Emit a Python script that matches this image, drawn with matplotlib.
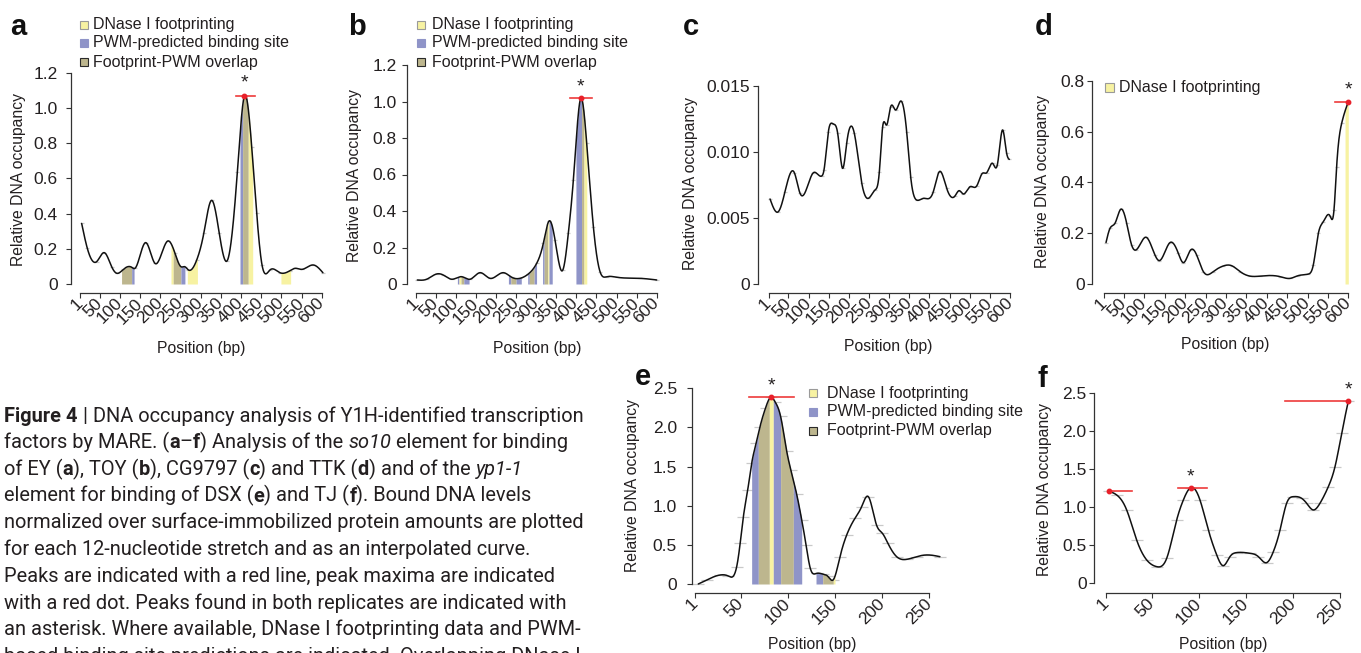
import numpy as np
import matplotlib
matplotlib.use("Agg")
import matplotlib.pyplot as plt
from matplotlib.transforms import IdentityTransform
from matplotlib.patches import Rectangle

W, H = 1361, 653
plt.rcParams['font.family'] = ['Liberation Sans', 'DejaVu Sans']
INK = '#231f20'

# ---------------- data ----------------
a_pos = [5.1, 19.2, 42.3, 61.3, 79.5, 91.9, 108.4, 129.1, 137.3, 163.8, 186.9, 218.3, 236.5, 251.3, 261, 269.5,
         290.2, 308, 327, 346, 366, 391, 408.3, 426.5, 438.9, 452.1, 471.9, 496.7, 521.5, 533.9, 550.4, 579.3, 603]
a_val = [0.344, 0.202, 0.127, 0.178, 0.098, 0.061, 0.083, 0.095, 0.089, 0.235, 0.117, 0.244, 0.174, 0.098, 0.098, 0.080,
         0.136, 0.29, 0.475, 0.29, 0.133, 0.638, 1.067, 0.780, 0.401, 0.108, 0.080, 0.064, 0.076, 0.089, 0.083, 0.108, 0.064]
a_fill_start = [104, 129, 226.5, 232, 251, 267, 397.5, 404, 418, 499]
a_fill_end = [129, 135, 232, 251, 261, 292, 404, 418, 429, 523]
a_fill_kind = ['O', 'P', 'Y', 'O', 'P', 'Y', 'P', 'O', 'Y', 'Y']

b_pos = [4.3, 27.5, 52.4, 69, 89.8, 114.7, 135.4, 160.3, 185.2, 218.4, 239.1, 259.8, 280.6, 301.3, 317.9, 332,
         347, 366, 380.1, 392.6, 411, 425.8, 442.4, 458.9, 475.5, 500.4, 558.5, 600]
b_val = [0.022, 0.026, 0.055, 0.049, 0.026, 0.040, 0.026, 0.062, 0.031, 0.062, 0.037, 0.031, 0.055, 0.113, 0.223, 0.345,
         0.241, 0.075, 0.278, 0.570, 1.0175, 0.771, 0.314, 0.068, 0.040, 0.037, 0.031, 0.022]
b_fill_start = [104, 108, 113, 120, 231, 237, 250, 279, 283, 295, 316, 320, 329, 332, 399, 413, 419]
b_fill_end = [108, 113, 120, 133, 237, 250, 263, 283, 295, 301, 320, 329, 332, 340, 413, 419, 426]
b_fill_kind = ['P', 'Y', 'O', 'P', 'P', 'O', 'P', 'P', 'O', 'P', 'P', 'O', 'Y', 'P', 'P', 'O', 'Y']

c_pos = [4.3, 25, 41.5, 64.7, 78.8, 111.9, 132.5, 138.3, 149.1, 161.5, 172.3, 184.7, 194.6, 213.6, 231.8, 248.4,
         264.9, 275.7, 283.9, 293.9, 303.8, 316.2, 328.6, 343.5, 353.4, 368.3, 384.9, 409.7, 424.6, 442.8, 463.5,
         473.4, 484.1, 500.7, 517.2, 531.3, 542.1, 556.9, 568.5, 581.8, 591.7, 598.3]
c_val = [0.00644, 0.00548, 0.00700, 0.00843, 0.00687, 0.00843, 0.00818, 0.00864, 0.01154, 0.01212, 0.01141, 0.00876,
         0.01066, 0.01141, 0.00768, 0.00649, 0.00712, 0.00851, 0.01192, 0.01205, 0.01343, 0.01318, 0.01386, 0.01154,
         0.00813, 0.00636, 0.00649, 0.00700, 0.00851, 0.00725, 0.00667, 0.00707, 0.00682, 0.00737, 0.00742, 0.00838,
         0.00843, 0.00914, 0.00902, 0.01167, 0.00990, 0.00944]

d_pos = [5.9, 15.7, 28, 41.9, 56.6, 68.8, 79.5, 104, 126, 136.7, 162.8, 183.2, 195.5, 213.5, 228.2, 244.5, 269,
         293.6, 314, 334.4, 358.9, 383.4, 432.5, 457, 477.4, 501.9, 514.2, 526.5, 538.7, 555.1, 564.9, 571.4, 583.7, 600]
d_val = [0.163, 0.219, 0.239, 0.294, 0.239, 0.153, 0.134, 0.184, 0.114, 0.092, 0.163, 0.121, 0.084, 0.134, 0.114,
         0.049, 0.049, 0.071, 0.072, 0.049, 0.031, 0.031, 0.029, 0.022, 0.033, 0.039, 0.075, 0.199, 0.245, 0.268,
         0.291, 0.462, 0.632, 0.717]
d_fill_start = [592]
d_fill_end = [600]
d_fill_kind = ['Y']

e_pos = [4.5, 13.4, 27.6, 36.4, 45.3, 49, 52.4, 57, 61.2, 66, 70.1, 76, 81.8, 86, 92, 98.4, 103, 109, 114.4, 119,
         123.3, 130.3, 137.4, 142, 148, 155.1, 162.2, 171, 178.1, 185.2, 194, 200, 206, 215.3, 225.9, 236.5, 247.2, 261.3]
e_val = [0.0, 0.051, 0.115, 0.102, 0.221, 0.52, 0.86, 1.2, 1.54, 1.80, 2.01, 2.25, 2.385, 2.33, 2.14, 1.70, 1.45,
         1.15, 0.82, 0.50, 0.21, 0.136, 0.125, 0.10, 0.055, 0.349, 0.626, 0.839, 0.988, 1.116, 0.75, 0.65, 0.52,
         0.349, 0.315, 0.349, 0.371, 0.349]
e_fill_start = [61.2, 68.3, 80, 84.2, 92, 105.5, 129.6, 136.7, 148]
e_fill_end = [68.3, 80, 84.2, 92, 105.5, 114.4, 136.7, 148, 149.8]
e_fill_kind = ['P', 'O', 'Y', 'P', 'O', 'P', 'P', 'O', 'Y']

f_pos = [4.5, 12.4, 23, 33.6, 44.3, 54.9, 65.6, 76.2, 83.3, 91.4, 101, 109.9, 118.8, 125.9, 132.9, 140, 154.2,
         163.1, 172, 179.1, 186.2, 193.2, 200.3, 209.2, 214.5, 221.6, 228.7, 237.6, 244.7, 251.8, 258.9]
f_val = [1.21, 1.162, 0.965, 0.570, 0.307, 0.219, 0.329, 0.833, 1.096, 1.26, 1.096, 0.702, 0.373, 0.232, 0.351,
         0.404, 0.395, 0.351, 0.272, 0.417, 0.702, 1.053, 1.140, 1.118, 1.053, 0.965, 1.053, 1.272, 1.535, 1.974, 2.40]

# peaks: (line start, line end, level, maximum position, asterisk y or None)
a_peaks = [(387.7, 434.8, 1.067, 408.3, 1.14)]
b_peaks = [(384, 438, 1.0175, 411, 1.081)]
c_peaks = []
d_peaks = [(567, 600, 0.717, 600, 0.763)]
e_peaks = [(58.7, 106.2, 2.385, 81.8, 2.53)]
f_peaks = [(4.5, 28.3, 1.21, 4.5, None), (78, 108, 1.26, 91.4, 1.40), (191.5, 259, 2.40, 258.9, 2.55)]

x_ticks_600 = [1, 50, 100, 150, 200, 250, 300, 350, 400, 450, 500, 550, 600]
x_ticks_250 = [1, 50, 100, 150, 200, 250]
a_yticks = [0, 0.2, 0.4, 0.6, 0.8, 1.0, 1.2]
a_ylabels = ['0', '0.2', '0.4', '0.6', '0.8', '1.0', '1.2']
c_yticks = [0, 0.005, 0.010, 0.015]
c_ylabels = ['0', '0.005', '0.010', '0.015']
d_yticks = [0, 0.2, 0.4, 0.6, 0.8]
d_ylabels = ['0', '0.2', '0.4', '0.6', '0.8']
e_yticks = [0, 0.5, 1.0, 1.5, 2.0, 2.5]
e_ylabels = ['0', '0.5', '1.0', '1.5', '2.0', '2.5']

legend_labels = ['DNase I footprinting', 'PWM-predicted binding site', 'Footprint-PWM overlap']
legend_kinds = ['Y', 'P', 'O']

caption = [
    [("Figure 4", 'b'), (" | DNA occupancy analysis of Y1H-identified transcription", 'n')],
    [("factors by MARE. (", 'n'), ("a", 'b'), ("\u2013", 'n'), ("f", 'b'), (") Analysis of the ", 'n'),
     ("so10", 'i'), (" element for binding", 'n')],
    [("of EY (", 'n'), ("a", 'b'), ("), TOY (", 'n'), ("b", 'b'), ("), CG9797 (", 'n'), ("c", 'b'),
     (") and TTK (", 'n'), ("d", 'b'), (") and of the ", 'n'), ("yp1-1", 'i')],
    [("element for binding of DSX (", 'n'), ("e", 'b'), (") and TJ (", 'n'), ("f", 'b'), ("). Bound DNA levels", 'n')],
    [("normalized over surface-immobilized protein amounts are plotted", 'n')],
    [("for each 12-nucleotide stretch and as an interpolated curve.", 'n')],
    [("Peaks are indicated with a red line, peak maxima are indicated", 'n')],
    [("with a red dot. Peaks found in both replicates are indicated with", 'n')],
    [("an asterisk. Where available, DNase I footprinting data and PWM-", 'n')],
    [("based binding site predictions are indicated. Overlapping DNase I", 'n')],
]

COL = {'Y': '#f7f2a2', 'P': '#8f94c8', 'O': '#bdb68e'}
EDGE = {'Y': '#9a9a9a', 'P': '#8f94c8', 'O': '#2a2a2a'}
TICK_FS = 12.5
LAB_FS = 11.3

fig = plt.figure(figsize=(W / 100, H / 100), dpi=100)
ID = IdentityTransform()


def ftext(x, y, s, **kw):
    kw.setdefault('color', INK)
    return fig.text(x, H - y, s, transform=ID, **kw)


def spline(x, y):
    x = np.asarray(x, float)
    y = np.asarray(y, float)
    n = len(x)
    h = np.diff(x)
    A = np.zeros((n, n))
    r = np.zeros(n)
    A[0, 0] = A[-1, -1] = 1
    for i in range(1, n - 1):
        A[i, i - 1] = h[i - 1]
        A[i, i] = 2 * (h[i - 1] + h[i])
        A[i, i + 1] = h[i]
        r[i] = 3 * ((y[i + 1] - y[i]) / h[i] - (y[i] - y[i - 1]) / h[i - 1])
    c = np.linalg.solve(A, r)
    b = (y[1:] - y[:-1]) / h - h * (2 * c[:-1] + c[1:]) / 3
    d = (c[1:] - c[:-1]) / (3 * h)

    def f(t):
        t = np.asarray(t, float)
        i = np.clip(np.searchsorted(x, t) - 1, 0, n - 2)
        dt = t - x[i]
        return y[i] + b[i] * dt + c[i] * dt ** 2 + d[i] * dt ** 3
    return f


def panel(xpx, xbp, ypx, yval, spine, axis_y, right, top, pos, val, xticks, yticks, ylabels,
          fills=None, peaks=(), ypad=3.0, marker_ms=2.5):
    sx = (xpx[1] - xpx[0]) / (xbp[1] - xbp[0])
    sy = (ypx[0] - ypx[1]) / (yval[1] - yval[0])
    xv = lambda p: xbp[0] + (p - xpx[0]) / sx
    yv = lambda q: yval[0] + (ypx[0] - q) / sy
    ax = fig.add_axes([spine / W, 1 - axis_y / H, (right - spine) / W, (axis_y - top) / H])
    ax.set_xlim(xv(spine), xv(right))
    ax.set_ylim(yv(axis_y), yv(top))
    ax.patch.set_alpha(0)
    for s in ('top', 'right'):
        ax.spines[s].set_visible(False)
    for s in ('left', 'bottom'):
        ax.spines[s].set_color('#333333')
        ax.spines[s].set_linewidth(0.9)
    ax.spines['left'].set_bounds(yticks[0], yticks[-1])
    ax.spines['bottom'].set_bounds(xticks[0], xticks[-1])
    ax.set_xticks(xticks, [str(t) for t in xticks], rotation=45, ha='right', va='center',
                  rotation_mode='anchor', fontsize=TICK_FS, color=INK)
    ax.set_yticks(yticks, ylabels, fontsize=TICK_FS, color=INK)
    ax.tick_params(axis='both', direction='out', length=3.6, width=0.8, color='#333333')
    ax.tick_params(axis='y', pad=ypad)
    ax.tick_params(axis='x', pad=2.0)

    f = spline(pos, val)
    xs = np.linspace(pos[0], pos[-1], 1500)
    if fills is not None:
        for x0, x1, k in zip(*fills):
            xx = np.linspace(x0, x1, 40)
            ax.fill_between(xx, 0, f(xx), color=COL[k], lw=0, zorder=2)
    ax.plot(pos, val, '_', ms=marker_ms, mew=0.9, color='#c9c9c9', zorder=1.5, clip_on=False)
    ax.plot(xs, f(xs), color='#111111', lw=1.1, zorder=3, clip_on=False, solid_capstyle='round')
    for x0, x1, lvl, pk, star in peaks:
        ax.plot([x0, x1], [lvl, lvl], color='#ee3b3b', lw=1.2, zorder=4, clip_on=False)
        ax.plot([pk], [lvl], 'o', ms=3.2, color='#e8202a', zorder=5, clip_on=False)
        if star is not None:
            ax.text(pk, star, '*', ha='center', va='center', fontsize=14, color=INK)
    return ax


panel((80, 321.7), (1, 600), (284, 72.7), (0, 1.2), 71, 293, 335, 50, a_pos, a_val,
      x_ticks_600, a_yticks, a_ylabels, (a_fill_start, a_fill_end, a_fill_kind), a_peaks, ypad=6)
panel((416, 656.7), (1, 600), (284, 65), (0, 1.2), 406.7, 293, 668, 50, b_pos, b_val,
      x_ticks_600, a_yticks, a_ylabels, (b_fill_start, b_fill_end, b_fill_kind), b_peaks, ypad=3.4)
panel((768.7, 1010), (1, 600), (284, 86), (0, 0.015), 758.3, 293, 1022, 60, c_pos, c_val,
      x_ticks_600, c_yticks, c_ylabels, None, c_peaks, ypad=2.2)
panel((1104, 1348.3), (1, 600), (284, 80.7), (0, 0.8), 1091.7, 293, 1358, 60, d_pos, d_val,
      x_ticks_600, d_yticks, d_ylabels, (d_fill_start, d_fill_end, d_fill_kind), d_peaks, ypad=1.5)
panel((695, 929.3), (1, 250), (584, 388.3), (0, 2.5), 691.7, 593.3, 950, 375, e_pos, e_val,
      x_ticks_250, e_yticks, e_ylabels, (e_fill_start, e_fill_end, e_fill_kind), e_peaks, ypad=7, marker_ms=8)
panel((1106, 1340), (1, 250), (583.3, 393.3), (0, 2.5), 1094, 593.3, 1358, 365, f_pos, f_val,
      x_ticks_250, e_yticks, e_ylabels, None, f_peaks, ypad=1.8, marker_ms=8)

# axis labels
for x, y in [(200.8, 348), (537, 348), (888, 347), (1225, 345), (812, 645), (1223, 645)]:
    ftext(x, y, 'Position (bp)', ha='center', va='center', fontsize=LAB_FS)
for x, y in [(19, 180), (354, 175), (691, 184), (1042, 182), (632, 486), (1045, 489)]:
    ftext(x, y, 'Relative DNA occupancy', ha='center', va='center', rotation=90, fontsize=LAB_FS)

# panel letters
for x, y, s in [(10, 35, 'a'), (348, 35, 'b'), (683, 35, 'c'), (1035, 35, 'd'), (635, 385, 'e'), (1037, 387, 'f')]:
    ftext(x, y, s, ha='left', va='baseline', fontsize=21, fontweight='bold', color='#111111')


# legends
def legend(px, tx, rows, labels, kinds, sz=8):
    for y, lab, k in zip(rows, labels, kinds):
        fig.add_artist(Rectangle((px, H - y - sz / 2), sz, sz, transform=ID, facecolor=COL[k],
                                 edgecolor=EDGE[k], lw=0.8))
        ftext(tx, y, lab, ha='left', va='center', fontsize=11.5)


legend(80, 93.3, [25, 43, 62], legend_labels, legend_kinds)
legend(417, 431.7, [25, 43, 62], legend_labels, legend_kinds)
legend(1104.5, 1119.3, [87.5], legend_labels[:1], legend_kinds[:1], sz=9)
legend(809, 826.7, [393.3, 411.7, 430.7], legend_labels, legend_kinds)

# caption
renderer = fig.canvas.get_renderer()
CAP_FAM = ['Roboto', 'DejaVu Sans']


def style_kw(st, size):
    kw = dict(family=CAP_FAM, fontsize=size)
    if st == 'b':
        kw['fontweight'] = 'bold'
    if st == 'i':
        kw['fontstyle'] = 'italic'
    return kw


def seg_width(s, st, size):
    t1 = fig.text(0, 0, 'x' + s + 'x', transform=ID, **style_kw(st, size))
    t2 = fig.text(0, 0, 'xx', transform=ID, **style_kw(st, size))
    w = t1.get_window_extent(renderer).width - t2.get_window_extent(renderer).width
    t1.remove()
    t2.remove()
    return w


base = 12.0
w0 = sum(seg_width(s, st, base) for s, st in caption[0])
cap_size = base * 579.0 / w0
for li, line in enumerate(caption):
    x = 4.0
    yb = 421.7 + li * 26.7
    for s, st in line:
        ftext(x, yb, s, ha='left', va='baseline', color=INK, **style_kw(st, cap_size))
        x += seg_width(s, st, cap_size)

fig.savefig('out.png', dpi=100)
